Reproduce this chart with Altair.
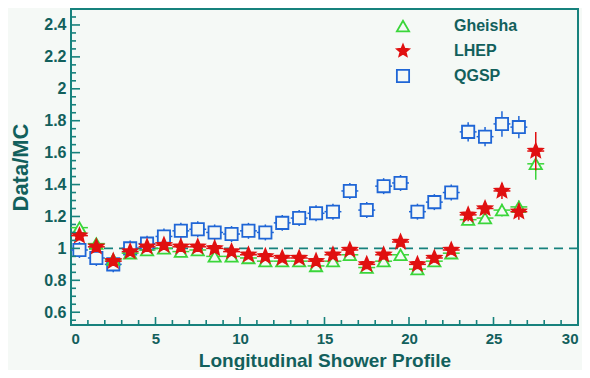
import altair as alt
import pandas as pd

# ---- data ----
SERIES = ["Gheisha", "LHEP", "QGSP"]
X = [i + 0.5 for i in range(28)]
GHEISHA = [1.13, 1.03, 0.93, 0.97, 0.99, 1.00, 0.98, 0.99, 0.95, 0.95, 0.94, 0.92, 0.92, 0.92,
           0.89, 0.92, 0.96, 0.88, 0.92, 0.96, 0.87, 0.92, 0.97, 1.18, 1.19, 1.24, 1.26, 1.53]
GHEISHA_ERR = [0.03, 0.02, 0.02, 0.02, 0.02, 0.02, 0.02, 0.02, 0.02, 0.02, 0.02, 0.02, 0.02, 0.02,
               0.02, 0.02, 0.02, 0.02, 0.02, 0.02, 0.02, 0.02, 0.02, 0.03, 0.03, 0.04, 0.04, 0.10]
LHEP = [1.08, 1.01, 0.92, 0.98, 1.01, 1.02, 1.01, 1.01, 1.00, 0.98, 0.96, 0.95, 0.94, 0.94,
        0.92, 0.96, 0.99, 0.90, 0.96, 1.04, 0.90, 0.94, 0.99, 1.21, 1.25, 1.36, 1.23, 1.61]
LHEP_ERR = [0.03, 0.02, 0.02, 0.02, 0.02, 0.02, 0.02, 0.02, 0.02, 0.02, 0.02, 0.02, 0.02, 0.02,
            0.02, 0.02, 0.03, 0.03, 0.03, 0.03, 0.03, 0.03, 0.03, 0.04, 0.04, 0.05, 0.05, 0.12]
QGSP = [0.99, 0.94, 0.90, 1.00, 1.03, 1.075, 1.11, 1.12, 1.10, 1.09, 1.11, 1.10, 1.16, 1.19,
        1.22, 1.23, 1.36, 1.24, 1.39, 1.41, 1.23, 1.29, 1.35, 1.73, 1.70, 1.78, 1.76]
QGSP_ERR = [0.05, 0.05, 0.05, 0.05, 0.05, 0.05, 0.05, 0.05, 0.05, 0.05, 0.05, 0.05, 0.05, 0.05,
            0.05, 0.05, 0.05, 0.05, 0.05, 0.05, 0.05, 0.05, 0.05, 0.06, 0.06, 0.08, 0.07]
X_HALF_WIDTH = 0.5
REF_LINE = [1.0]

X_LABELS = [0, 5, 10, 15, 20, 25, 30]
Y_LABELS = [0.6, 0.8, 1.0, 1.2, 1.4, 1.6, 1.8, 2.0, 2.2, 2.4]
X_MAJOR = [5, 10, 15, 20, 25]
X_MINOR = [i for i in range(1, 30) if i % 5 != 0]
Y_MAJOR = Y_LABELS
Y_MINOR = [k / 100 for k in range(55, 250, 5) if k % 20 != 0]

# ---- style ----
BG = "#f5f9f6"
AX = "#17827d"
TXT = "#12605c"
COLORS = ["#3ad63a", "#e01010", "#1f66d6"]
FILLS = [BG, "#e01010", BG]
STAR = ("M0,-1L0.265,-0.364L0.951,-0.309L0.428,0.139L0.588,0.809L0,0.45"
        "L-0.588,0.809L-0.428,0.139L-0.951,-0.309L-0.265,-0.364Z")
SHAPES = ["triangle-up", STAR, "square"]
SIZES = [150, 210, 150]
DRAW_ORDER = ["QGSP", "Gheisha", "LHEP"]
FONT = "Liberation Sans"
W, H = 507, 316

series_data = {"Gheisha": (GHEISHA, GHEISHA_ERR), "LHEP": (LHEP, LHEP_ERR), "QGSP": (QGSP, QGSP_ERR)}
frames = {}
for name in SERIES:
    vals, errs = series_data[name]
    sub = []
    for x, v, e in zip(X, vals, errs):
        sub.append(dict(series=name, x=x, y=v, lo=v - e, hi=v + e,
                        xlo=x - X_HALF_WIDTH, xhi=x + X_HALF_WIDTH))
    frames[name] = pd.DataFrame(sub)

xs = alt.Scale(domain=[0, 30], nice=False, zero=False)
ys = alt.Scale(domain=[0.52, 2.5], nice=False, zero=False)
AXX = alt.Axis(title="Longitudinal Shower Profile", values=X_LABELS, format="~g")
AXY = alt.Axis(title="Data/MC", values=Y_LABELS, format="~g")


def X_(f):
    return alt.X(f, type="quantitative", scale=xs, axis=AXX)


def Y_(f):
    return alt.Y(f, type="quantitative", scale=ys, axis=AXY)


layers = []
# dashed reference line
layers.append(alt.Chart(pd.DataFrame({"v": REF_LINE})).mark_rule(
    color=AX, strokeDash=[9, 6], strokeWidth=1.6).encode(y=Y_("v")))

# error bars + markers, one series at a time
for name in DRAW_ORDER:
    i = SERIES.index(name)
    col = COLORS[i]
    sub = alt.Chart(frames[name])
    layers.append(sub.mark_rule(color=col, strokeWidth=1.5).encode(
        x=X_("x"), y=Y_("lo"), y2="hi"))
    layers.append(sub.mark_rule(color=col, strokeWidth=1.5).encode(
        x=X_("xlo"), x2="xhi", y=Y_("y")))
    layers.append(sub.mark_point(opacity=1, strokeWidth=1.8, size=SIZES[i]).encode(
        x=X_("x"), y=Y_("y"),
        stroke=alt.Stroke("series:N", scale=alt.Scale(domain=SERIES, range=COLORS), legend=alt.Legend(title=None)),
        fill=alt.Fill("series:N", scale=alt.Scale(domain=SERIES, range=FILLS), legend=alt.Legend(title=None)),
        shape=alt.Shape("series:N", scale=alt.Scale(domain=SERIES, range=SHAPES), legend=alt.Legend(title=None)),
    ))

# inward ticks
layers.append(alt.Chart(pd.DataFrame({"v": Y_MAJOR})).mark_rule(color=AX, strokeWidth=1.6).encode(
    y=Y_("v"), x=alt.value(0), x2=alt.value(9)))
layers.append(alt.Chart(pd.DataFrame({"v": Y_MINOR})).mark_rule(color=AX, strokeWidth=1.6).encode(
    y=Y_("v"), x=alt.value(0), x2=alt.value(5)))
layers.append(alt.Chart(pd.DataFrame({"v": X_MAJOR})).mark_rule(color=AX, strokeWidth=1.6).encode(
    x=X_("v"), y=alt.value(H), y2=alt.value(H - 8)))
layers.append(alt.Chart(pd.DataFrame({"v": X_MINOR})).mark_rule(color=AX, strokeWidth=1.6).encode(
    x=X_("v"), y=alt.value(H), y2=alt.value(H - 5)))

chart = alt.layer(*layers).properties(
    width=W, height=H,
    background=BG,
    padding={"left": 63, "top": 1, "right": 4, "bottom": 45},
    autosize=alt.AutoSizeParams(type="none"),
).configure_view(
    stroke=AX, strokeWidth=2, fill=BG,
).configure_axis(
    domain=False, ticks=False, grid=False,
    labelFont=FONT, labelFontWeight="bold", labelFontSize=15, labelColor=TXT,
    titleFont=FONT, titleFontWeight="bold", titleFontSize=19, titleColor=TXT,
).configure_axisX(
    labelPadding=6, titleBaseline="alphabetic", titleY=41,
).configure_axisY(
    labelPadding=5, titlePadding=11, titleFontSize=22, labelFontSize=16,
).configure_legend(
    orient="none", legendX=324, legendY=9,
    labelFont=FONT, labelFontWeight="bold", labelFontSize=16, labelColor=TXT,
    symbolSize=150, symbolStrokeWidth=1.8, labelOffset=43, rowPadding=6,
)

chart.save("out.html", embed_options={"renderer": "svg", "actions": False})
